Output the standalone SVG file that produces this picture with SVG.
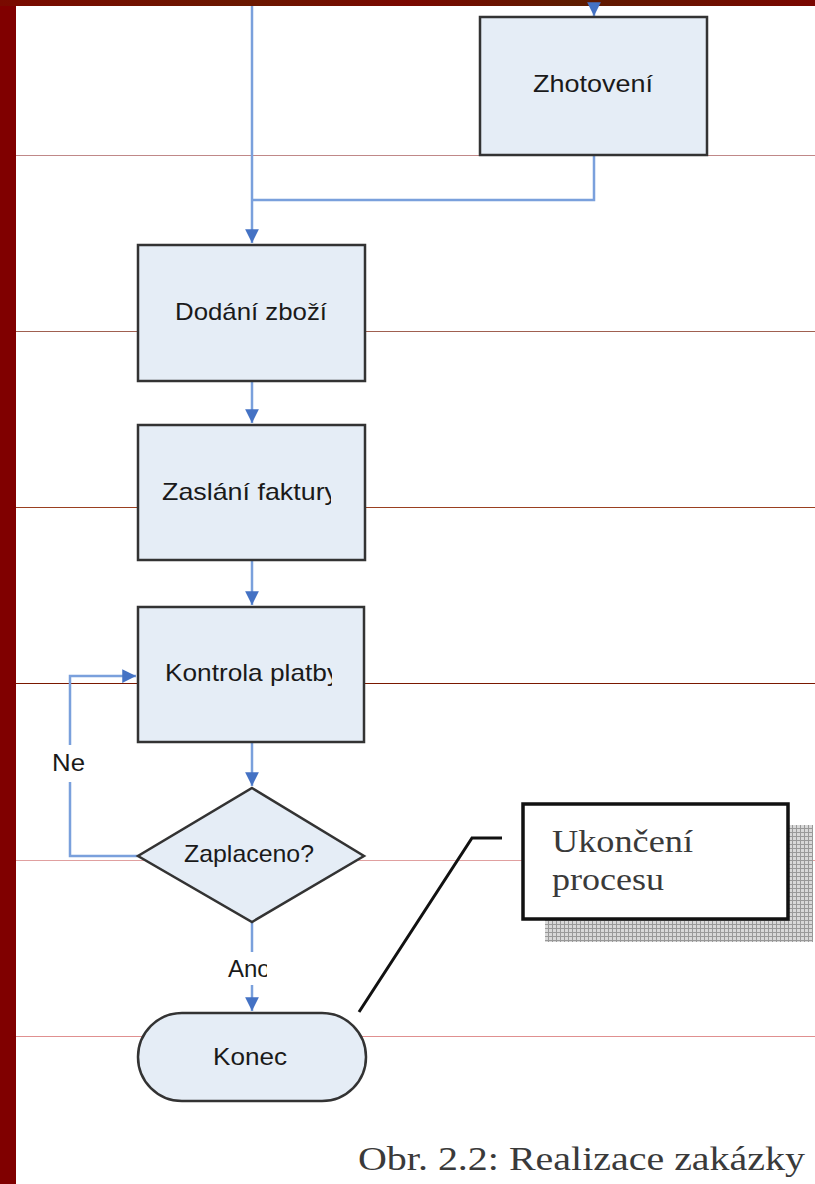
<svg xmlns="http://www.w3.org/2000/svg" width="815" height="1184" viewBox="0 0 815 1184">
<defs>
<linearGradient id="topg" x1="0" x2="1" y1="0" y2="0">
<stop offset="0" stop-color="#7a0a00"/><stop offset="0.3" stop-color="#6a1800"/><stop offset="0.5" stop-color="#7a0800"/><stop offset="0.7" stop-color="#5e1c00"/><stop offset="1" stop-color="#7a0600"/>
</linearGradient>
<pattern id="grid" width="4" height="4" patternUnits="userSpaceOnUse">
<rect width="4" height="4" fill="#d8d8d8"/>
<path d="M0 0.5H4M0.5 0V4" stroke="#999" stroke-width="1"/>
</pattern>
<marker id="ah" viewBox="0 0 10 10" refX="10" refY="5" markerWidth="5.5" markerHeight="5.5" orient="auto" markerUnits="strokeWidth">
<path d="M0 0L10 5L0 10z" fill="#4472c4"/>
</marker>
<clipPath id="c1"><rect x="140" y="425" width="191" height="135"/></clipPath>
<clipPath id="c2"><rect x="140" y="607" width="192" height="135"/></clipPath>
<clipPath id="c4"><rect x="200" y="950" width="67" height="35"/></clipPath>
</defs>
<style>
.box{fill:#e5edf6;stroke:#333;stroke-width:2.5}
.lbl{font-family:"Liberation Sans",Arial,sans-serif;font-size:24px;fill:#1a1a1a}
.con{fill:none;stroke:#7aa0dc;stroke-width:2.5}
.rule{stroke-width:1.2}
.serif{font-family:"Liberation Serif","Times New Roman",serif;fill:#3a3a3a}
</style>
<rect width="815" height="1184" fill="#fff"/>
<g id="background">
<line class="rule" x1="16" y1="155.5" x2="815" y2="155.5" stroke="#c08888"/>
<line class="rule" x1="16" y1="331.5" x2="815" y2="331.5" stroke="#a06050"/>
<line class="rule" x1="16" y1="507.5" x2="815" y2="507.5" stroke="#9a4020"/>
<line class="rule" x1="16" y1="683.5" x2="815" y2="683.5" stroke="#7a1800"/>
<line class="rule" x1="16" y1="860.5" x2="815" y2="860.5" stroke="#e0a0a0"/>
<line class="rule" x1="16" y1="1036.5" x2="815" y2="1036.5" stroke="#e09090"/>
<rect x="0" y="0" width="16" height="1184" fill="#800000"/>
<rect x="0" y="0" width="815" height="6" fill="url(#topg)"/>
</g>
<g id="connectors">
<path class="con" d="M252 6V243" marker-end="url(#ah)"/>
<path class="con" d="M594 6V16" marker-end="url(#ah)"/>
<path class="con" d="M594 155V200H252"/>
<path class="con" d="M252 381V423" marker-end="url(#ah)"/>
<path class="con" d="M252 560V605" marker-end="url(#ah)"/>
<path class="con" d="M252 742V786" marker-end="url(#ah)"/>
<path class="con" d="M138 856H70V782M70 745V676H136" marker-end="url(#ah)"/>
<path class="con" d="M252 922V952"/>
<path class="con" d="M252 985V1011" marker-end="url(#ah)"/>
<text class="lbl" x="52" y="771" font-size="22" textLength="33" lengthAdjust="spacingAndGlyphs">Ne</text>
<text class="lbl" x="228" y="977" font-size="23" clip-path="url(#c4)">Ano</text>
</g>
<g id="zhotoveni">
<rect class="box" x="480" y="17" width="227" height="138"/>
<text class="lbl" x="533" y="92" textLength="120" lengthAdjust="spacingAndGlyphs">Zhotovení</text>
</g>
<g id="dodani">
<rect class="box" x="138" y="245" width="227" height="136"/>
<text class="lbl" x="175" y="320" textLength="152" lengthAdjust="spacingAndGlyphs">Dodání zboží</text>
</g>
<g id="zaslani">
<rect class="box" x="138" y="425" width="227" height="135"/>
<text class="lbl" x="162" y="500" clip-path="url(#c1)" textLength="176" lengthAdjust="spacingAndGlyphs">Zaslání faktury</text>
</g>
<g id="kontrola">
<rect class="box" x="138" y="607" width="226" height="135"/>
<text class="lbl" x="165" y="681" clip-path="url(#c2)" textLength="175" lengthAdjust="spacingAndGlyphs">Kontrola platby</text>
</g>
<g id="zaplaceno">
<path class="box" stroke-width="2" d="M252 788L364 856L252 922L138 856Z"/>
<text class="lbl" x="184" y="862" textLength="130" lengthAdjust="spacingAndGlyphs">Zaplaceno?</text>
</g>
<g id="konec">
<rect class="box" stroke-width="2" x="138" y="1013" width="228" height="88" rx="44" ry="44"/>
<text class="lbl" x="213" y="1065" textLength="74" lengthAdjust="spacingAndGlyphs">Konec</text>
</g>
<g id="callout">
<rect x="545" y="825" width="268" height="117" fill="url(#grid)"/>
<rect x="523" y="804" width="265" height="115" fill="#fff" stroke="#111" stroke-width="3.5"/>
<text class="serif" x="552" y="852" font-size="31" textLength="141" lengthAdjust="spacingAndGlyphs" fill="#34344a">Ukončení</text>
<text class="serif" x="552" y="890" font-size="31" textLength="112" lengthAdjust="spacingAndGlyphs">procesu</text>
<path d="M502 838H472L359 1012" fill="none" stroke="#111" stroke-width="3"/>
</g>
<text class="serif" x="358" y="1170" font-size="33" textLength="447" lengthAdjust="spacingAndGlyphs">Obr. 2.2: Realizace zakázky</text>
</svg>
